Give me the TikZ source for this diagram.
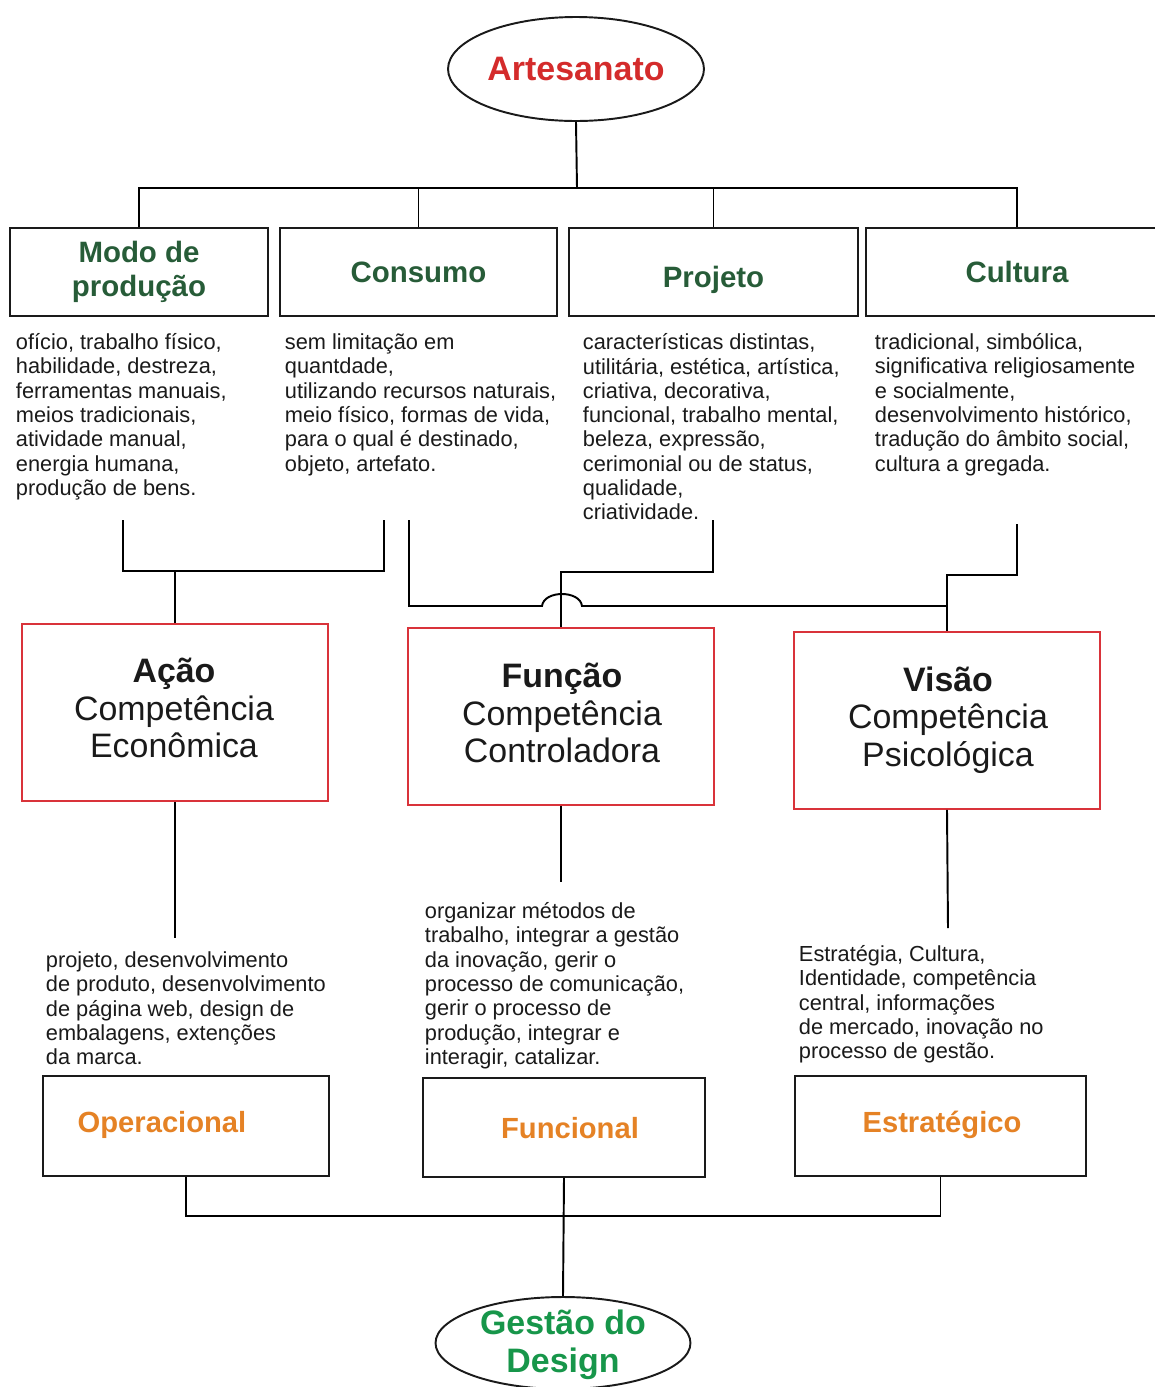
\documentclass[tikz,border=0pt]{standalone}
\usepackage{fontspec}
\setmainfont{Liberation Sans}
\usetikzlibrary{shapes.geometric}
\definecolor{artred}{HTML}{D42B2B}
\definecolor{titlegreen}{HTML}{275C38}
\definecolor{boxred}{HTML}{D9333A}
\definecolor{labelorange}{HTML}{E58225}
\definecolor{gestgreen}{HTML}{17964A}
\definecolor{ink}{HTML}{1A1A1A}
\begin{document}
\begin{tikzpicture}[x=0.02cm,y=-0.02cm,line width=1.1pt,
  topbox/.style={draw=ink,rectangle,inner sep=0pt,minimum height=1.76cm,
    text=titlegreen,align=center,font=\fontsize{16.75}{18.5}\selectfont\bfseries},
  toptext/.style={inner sep=0pt,text=titlegreen,font=\fontsize{16.75}{18.5}\selectfont\bfseries},
  desc/.style={inner sep=0pt,anchor=base west,align=left,text=ink,
    font=\fontsize{12.4}{13.83}\selectfont},
  compbox/.style={draw=boxred,rectangle,inner sep=0pt,minimum width=6.12cm,
    minimum height=3.54cm},
  comptext/.style={inner sep=0pt,align=center,text=ink,
    font=\fontsize{19.3}{21.5}\selectfont},
  levelbox/.style={draw=ink,rectangle,inner sep=0pt,minimum height=2cm},
  leveltext/.style={inner sep=0pt,text=labelorange,
    font=\fontsize{16.6}{19}\selectfont\bfseries},
  oval/.style={draw=ink,ellipse,inner sep=0pt}]
\useasboundingbox (0,0) rectangle (1155,1387);
\fill[white] (0,0) rectangle (1155,1387);

% root
\node[oval,minimum width=5.12cm,minimum height=2.08cm,text=artred,
  font=\fontsize{19.3}{22}\selectfont\bfseries] (art) at (576,69) {Artesanato};

% four aspects
\node[topbox,minimum width=5.16cm] (modo) at (139,272) {Modo de\\[0.5pt]produção};
\node[topbox,minimum width=5.54cm] (consumo) at (418.5,272) {Consumo};
\node[topbox,minimum width=5.78cm] (projeto) at (713.5,272) {};
\node[toptext] (tprojeto) at (713.5,280) {Projeto};
\node[topbox,minimum width=6.04cm] (cultura) at (1017,272) {Cultura};

\coordinate (topbus) at (577,188);
\draw (art.south) -- (topbus);
\draw (modo.north) -- (modo.north |- topbus) -- (cultura.north |- topbus) -- (cultura.north);
\draw (consumo.north) -- (consumo.north |- topbus);
\draw (projeto.north) -- (projeto.north |- topbus);

% descriptions of the aspects (placed by the baseline of their last line)
\node[desc] (dmodo) at (15,495.4) {ofício, trabalho físico,\\habilidade, destreza,\\ferramentas manuais,\\meios tradicionais,\\atividade manual,\\energia humana,\\produção de bens.};
\node[desc] (dconsumo) at (284,471) {sem limitação em\\quantdade,\\utilizando recursos naturais,\\meio físico, formas de vida,\\para o qual é destinado,\\objeto, artefato.};
\node[desc] (dprojeto) at (582,519.8) {características distintas,\\utilitária, estética, artística,\\criativa, decorativa,\\funcional, trabalho mental,\\beleza, expressão,\\cerimonial ou de status,\\qualidade,\\criatividade.};
\node[desc] (dcultura) at (874,471) {tradicional, simbólica,\\significativa religiosamente\\e socialmente,\\desenvolvimento histórico,\\tradução do âmbito social,\\cultura a gregada.};

% competences
\node[compbox] (acao) at (175,712.5) {};
\node[compbox] (funcao) at (561,716.5) {};
\node[compbox] (visao) at (947,720.5) {};
\node[comptext] (tacao) at (174,708) {\textbf{Ação}\\Competência\\Econômica};
\node[comptext] (tfuncao) at (562,713) {\textbf{Função}\\Competência\\Controladora};
\node[comptext] (tvisao) at (948,720) {\textbf{Visão}\\Competência\\Psicológica};

% links from the descriptions to the competences
\coordinate (lb1) at (123,520);
\coordinate (lb2) at (384,520);
\coordinate (lbar) at (0,571);
\draw (lb1) -- (lb1 |- lbar) -- (lb2 |- lbar) -- (lb2);
\draw (acao.north) -- (acao.north |- lbar);

\coordinate (cs) at (409,520);
\coordinate (jumpL) at (542,606);
\coordinate (jumpR) at (582,606);
\draw (cs) -- (cs |- jumpL) -- (jumpL) .. controls +(2,-16) and +(-2,-16) .. (jumpR) -- (visao.north |- jumpR);

\coordinate (pj) at (713,520);
\coordinate (pjbar) at (0,572);
\draw (pj) -- (pj |- pjbar) -- (funcao.north |- pjbar) -- (funcao.north);

\coordinate (ct) at (1017,524);
\coordinate (ctbar) at (0,575);
\draw (ct) -- (ct |- ctbar) -- (visao.north |- ctbar) -- (visao.north);

% competences down to their activities
\coordinate (acaoend) at (175,938);
\coordinate (funcaoend) at (561,882);
\coordinate (visaoend) at (948,928);
\draw (acao.south) -- (acaoend);
\draw (funcao.south) -- (funcaoend);
\draw (visao.south) -- (visaoend);

\node[desc] (dacao) at (45,1064.6) {projeto, desenvolvimento\\de produto, desenvolvimento\\de página web, design de\\embalagens, extenções\\da marca.};
\node[desc] (dfuncao) at (424,1064.4) {organizar métodos de\\trabalho, integrar a gestão\\da inovação, gerir o\\processo de comunicação,\\gerir o processo de\\produção, integrar e\\interagir, catalizar.};
\node[desc] (dvisao) at (798,1058.6) {Estratégia, Cultura,\\Identidade, competência\\central, informações\\de mercado, inovação no\\processo de gestão.};

% levels
\node[levelbox,minimum width=5.72cm] (op) at (186,1126) {};
\node[levelbox,minimum width=5.64cm,minimum height=1.98cm] (fu) at (564,1127.5) {};
\node[levelbox,minimum width=5.82cm] (es) at (940.5,1126) {};
\node[leveltext] (top) at (162,1125) {Operacional};
\node[leveltext] (tfu) at (570,1128) {Funcional};
\node[leveltext] (tes) at (942,1125) {Estratégico};

% design management
\node[oval,minimum width=5.1cm,minimum height=1.84cm] (gestao) at (563,1343) {};
\node[inner sep=0pt,align=center,text=gestgreen,
  font=\fontsize{19.3}{21.5}\selectfont\bfseries] (tgestao) at (563,1345) {Gestão do\\Design};

\coordinate (bbus) at (0,1216);
\draw (op.south) -- (op.south |- bbus) -- (es.south |- bbus) -- (es.south);
\draw (fu.south) -- (gestao.north);
\end{tikzpicture}
\end{document}
